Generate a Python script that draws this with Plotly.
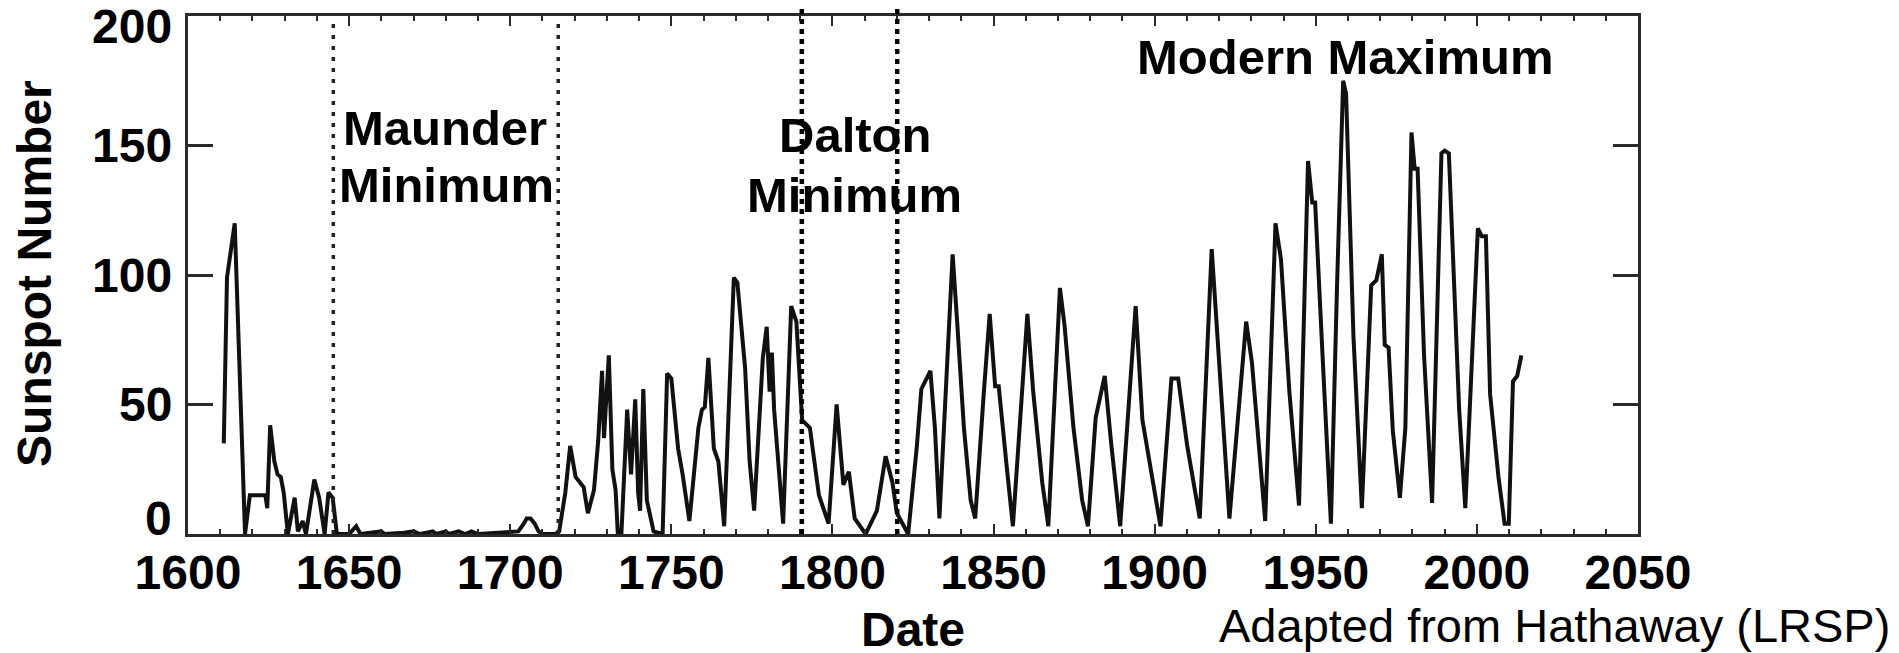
import plotly.graph_objects as go

# Sunspot number record (year, value)
years = [
    1611.1, 1612.1, 1614.5, 1617.7, 1619.2, 1624.0, 1624.6, 1625.5, 1626.8, 1627.8,
    1628.8, 1629.7, 1631.0, 1633.1, 1634.1, 1635.6, 1636.6, 1639.2, 1640.7, 1642.4,
    1643.6, 1644.9, 1646.2, 1650.0, 1652.2, 1653.5, 1660.0, 1661.0, 1667.0, 1670.0,
    1672.0, 1676.0, 1677.0, 1680.0, 1681.0, 1684.0, 1686.0, 1688.0, 1690.0, 1695.0,
    1700.0, 1702.5, 1704.2, 1705.1, 1706.3, 1707.6, 1708.8, 1710.0, 1714.0, 1715.2,
    1717.1, 1718.6, 1720.3, 1722.8, 1724.1, 1726.0, 1727.3, 1728.5, 1729.1, 1730.6,
    1731.7, 1732.7, 1733.4, 1734.5, 1736.3, 1737.5, 1738.8, 1739.7, 1740.3, 1741.3,
    1742.4, 1744.5, 1747.3, 1748.7, 1750.0, 1752.1, 1753.5, 1755.6, 1758.4, 1759.5,
    1760.4, 1761.5, 1763.2, 1764.6, 1766.4, 1768.0, 1769.4, 1770.5, 1772.9, 1774.3,
    1775.7, 1778.4, 1779.6, 1780.5, 1781.2, 1781.9, 1784.7, 1787.2, 1788.8, 1790.6,
    1793.0, 1795.8, 1798.8, 1801.3, 1803.4, 1805.1, 1806.9, 1810.3, 1813.8, 1816.5,
    1818.6, 1820.0, 1823.5, 1826.2, 1827.6, 1830.4, 1831.8, 1833.2, 1837.3, 1838.7,
    1840.8, 1842.9, 1844.3, 1847.0, 1848.8, 1850.5, 1851.6, 1854.0, 1856.0, 1860.5,
    1862.3, 1865.1, 1867.0, 1870.6, 1872.0, 1874.8, 1877.5, 1879.3, 1881.7, 1884.5,
    1886.5, 1889.3, 1894.1, 1896.2, 1898.3, 1901.8, 1905.2, 1907.3, 1910.1, 1912.2,
    1914.0, 1917.7, 1919.8, 1923.2, 1928.4, 1930.2, 1934.3, 1937.5, 1939.2, 1941.8,
    1944.8, 1947.6, 1948.9, 1949.8, 1952.1, 1954.7, 1956.6, 1958.5, 1959.4, 1961.7,
    1964.3, 1967.2, 1968.8, 1970.5, 1971.4, 1972.6, 1973.9, 1976.1, 1977.8, 1979.7,
    1980.7, 1981.6, 1983.6, 1986.1, 1989.0, 1990.0, 1991.3, 1992.6, 1994.5, 1996.4,
    2000.3, 2001.5, 2002.8, 2004.1, 2006.7, 2008.6, 2009.9, 2011.2, 2012.5, 2013.8,
]
sunspots = [
    35, 99, 120, 0, 15, 15, 10, 42, 28, 23,
    22, 16, 0, 14, 1, 5, 0, 21, 14, 0,
    16, 14, 0, 0, 3, 0, 1, 0, 0.5, 1,
    0, 1, 0, 1, 0, 1, 0, 1, 0, 0.5,
    1, 1, 4, 6, 6, 4, 1, 0, 0, 1,
    16, 34, 22, 18, 8, 17, 36, 63, 37, 69,
    25, 17, 0, 0, 48, 23, 52, 16, 9, 56,
    13, 1, 0, 62, 60, 33, 23, 5, 41, 48,
    49, 68, 33, 28, 3, 55, 99, 97, 64, 28,
    9, 68, 80, 55, 70, 48, 4, 88, 82, 44,
    41, 15, 4, 50, 19, 24, 6, 0, 9, 30,
    20, 8, 0, 34, 56, 63, 41, 6, 108, 82,
    41, 13, 6, 55, 85, 57, 57, 27, 3, 85,
    55, 20, 3, 95, 81, 41, 13, 3, 45, 61,
    35, 3, 88, 44, 28, 3, 60, 60, 34, 19,
    6, 110, 68, 6, 82, 66, 5, 120, 106, 55,
    11, 144, 128, 128, 69, 4, 96, 175, 170, 76,
    10, 96, 98, 108, 73, 72, 40, 14, 41, 155,
    141, 141, 69, 12, 147, 148, 147, 110, 48, 10,
    118, 115, 115, 54, 22, 4, 4, 59, 61, 69,
]

# Axis ticks
x_ticks = [1600, 1650, 1700, 1750, 1800, 1850, 1900, 1950, 2000, 2050]
y_ticks = [0, 50, 100, 150, 200]

# Boundaries of the named minima
maunder_bounds = [1645.1, 1714.9]
dalton_bounds = [1790.5, 1820.1]

FONT = "Liberation Sans, Arial, Helvetica, sans-serif"
AXIS_COLOR = "#2a2a2a"

fig = go.Figure()
fig.add_trace(go.Scatter(
    x=years, y=sunspots, mode="lines",
    line=dict(color="#111111", width=4),
    hoverinfo="x+y", showlegend=False,
))

# Dotted boundary lines
for xb in maunder_bounds:
    fig.add_shape(type="line", xref="x", yref="paper", x0=xb, x1=xb, y0=0, y1=0.985,
                  line=dict(color="#222222", width=3.5, dash="4px,7px"))
for xb in dalton_bounds:
    fig.add_shape(type="line", xref="x", yref="paper", x0=xb, x1=xb, y0=0, y1=1.017,
                  line=dict(color="#000000", width=4.5, dash="5px,5px"))

bold = dict(family=FONT, size=48, color="black", weight="bold")

# Region labels
labels = [
    ("Maunder", 1679.8, 156.6),
    ("Minimum", 1680.1, 134.6),
    ("Dalton", 1807.0, 154.0),
    ("Minimum", 1806.7, 130.9),
    ("Modern Maximum", 1959.1, 184.2),
]
for text, lx, ly in labels:
    fig.add_annotation(text=text, x=lx, y=ly, xref="x", yref="y",
                       xanchor="center", yanchor="middle", showarrow=False,
                       font=dict(bold, size=49))

# Y tick labels (end labels tucked inside the frame)
y_label_shift = {0: 15.5, 200: -10}
for v in y_ticks:
    fig.add_annotation(text=str(v), x=0, y=v, xref="paper", yref="y",
                       xanchor="right", yanchor="middle", xshift=-14,
                       yshift=y_label_shift.get(v, 0), showarrow=False, font=bold)

# Axis titles
fig.add_annotation(text="Sunspot Number", x=-0.1059, y=0.503, xref="paper", yref="paper",
                   xanchor="center", yanchor="middle", textangle=-90,
                   showarrow=False, font=bold)
fig.add_annotation(text="Date", x=0.5, y=-0.184, xref="paper", yref="paper",
                   xanchor="center", yanchor="middle", showarrow=False, font=bold)

# Credit line
fig.add_annotation(text="Adapted from Hathaway (LRSP)", x=1.1752, y=-0.1757,
                   xref="paper", yref="paper", xanchor="right", yanchor="middle",
                   showarrow=False,
                   font=dict(family=FONT, size=47, color="black"))

fig.update_xaxes(
    range=[1600, 2050], tickvals=x_ticks, ticktext=[str(t) for t in x_ticks],
    ticks="inside", ticklen=10, tickwidth=2, tickcolor=AXIS_COLOR,
    minor=dict(ticks="inside", ticklen=5, tickwidth=2, tickcolor=AXIS_COLOR,
               tick0=1600, dtick=10, showgrid=False),
    showline=True, linecolor=AXIS_COLOR, linewidth=3, mirror="allticks",
    showgrid=False, zeroline=False,
    tickfont=bold, ticklabelstandoff=-6,
)
fig.update_yaxes(
    range=[0, 200], tickvals=y_ticks, showticklabels=False,
    ticks="inside", ticklen=25, tickwidth=2.5, tickcolor=AXIS_COLOR,
    showline=True, linecolor=AXIS_COLOR, linewidth=3, mirror="allticks",
    showgrid=False, zeroline=False,
)
fig.update_layout(
    width=1899, height=653,
    margin=dict(l=188, r=261, t=16, b=119, autoexpand=False),
    paper_bgcolor="white", plot_bgcolor="white",
    font=dict(family=FONT, color="black"),
)

fig.write_html("out.html")
